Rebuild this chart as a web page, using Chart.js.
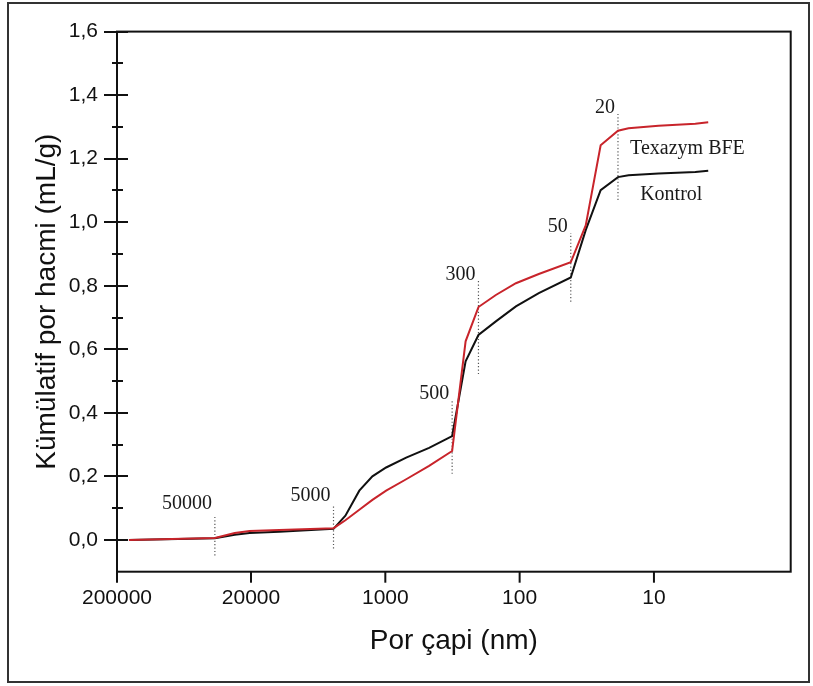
<!DOCTYPE html>
<html><head><meta charset="utf-8">
<script src="https://cdn.jsdelivr.net/npm/chart.js@4/dist/chart.umd.min.js"></script>
<style>html,body{margin:0;padding:0;background:#fff}#wrap{width:813px;height:686px;position:relative}</style>
</head><body><div id="wrap"><canvas id="c" width="813" height="686"></canvas></div>
<script>
// ---- data ----
const poreDiameters = [265000, 50000, 34000, 25500, 14300, 5000, 3970, 3030, 2350, 1800, 1220, 782, 500, 385, 300, 214, 145, 93, 50, 37.4, 28, 20, 16.3, 9.1, 4.46, 3.47];
const texazymValues = [0, 0.006, 0.022, 0.028, 0.031, 0.037, 0.062, 0.095, 0.126, 0.155, 0.191, 0.233, 0.28, 0.625, 0.733, 0.771, 0.808, 0.837, 0.874, 0.99, 1.242, 1.288, 1.296, 1.304, 1.31, 1.315];
const kontrolValues = [0, 0.005, 0.016, 0.022, 0.026, 0.035, 0.076, 0.155, 0.20, 0.228, 0.259, 0.29, 0.327, 0.562, 0.645, 0.688, 0.735, 0.777, 0.826, 0.975, 1.101, 1.142, 1.148, 1.153, 1.158, 1.162];
const seriesNames = ['Texazym BFE', 'Kontrol'];

const xTickLabels = ['200000', '20000', '1000', '100', '10'];
const xTickValues = [334200, 24800, 1829, 134.9, 9.95];

const markerValues = [50000, 5000, 500, 300, 50, 20];
const markerLabels = ['50000', '5000', '500', '300', '50', '20'];

// ---- layout / placement (not data) ----
const xMin = 0.7264, xMax = 334200;
const markerSpans = [[-0.049, 0.076], [-0.027, 0.108], [0.208, 0.44], [0.522, 0.817], [0.75, 0.965], [1.07, 1.341]];
const markerLabelY = [0.098, 0.123, 0.443, 0.819, 0.970, 1.344];
const seriesLabelPos = [{x: 15.8, y: 1.216}, {x: 13.0, y: 1.069}];

const RED = '#c8242b', BLACK = '#111111';

const datasets = [
  {label: seriesNames[0], data: poreDiameters.map((d, i) => ({x: d, y: texazymValues[i]})), borderColor: RED, borderWidth: 2, pointRadius: 0, tension: 0},
  {label: seriesNames[1], data: poreDiameters.map((d, i) => ({x: d, y: kontrolValues[i]})), borderColor: BLACK, borderWidth: 2, pointRadius: 0, tension: 0}
];
markerValues.forEach((m, i) => {
  datasets.push({label: 'm' + markerLabels[i], data: [{x: m, y: markerSpans[i][0]}, {x: m, y: markerSpans[i][1]}],
    borderColor: '#555', borderWidth: 1.2, borderDash: [1.2, 2.2], pointRadius: 0, tension: 0});
});

const decor = {
  id: 'decor',
  afterDraw(chart) {
    const ctx = chart.ctx, ca = chart.chartArea, xs = chart.scales.x, ys = chart.scales.y;
    ctx.save();
    ctx.strokeStyle = BLACK; ctx.lineWidth = 2; ctx.lineCap = 'butt';
    ctx.strokeRect(ca.left, ca.top, ca.right - ca.left, ca.bottom - ca.top);
    ys.ticks.forEach(t => {
      if (t.value < -1e-9) return;
      const k = Math.round(t.value * 10);
      const py = Math.round(ys.getPixelForValue(t.value));
      const major = k % 2 === 0;
      ctx.beginPath();
      ctx.moveTo(ca.left - (major ? 13 : 5), py);
      ctx.lineTo(ca.left + (major ? 11 : 6), py);
      ctx.stroke();
    });
    xs.ticks.forEach(t => {
      const px = xs.getPixelForValue(t.value);
      ctx.beginPath(); ctx.moveTo(px, ca.bottom); ctx.lineTo(px, ca.bottom + 11); ctx.stroke();
    });
    ctx.fillStyle = '#1a1a1a';
    ctx.font = '20px "Liberation Serif", "Times New Roman", serif';
    ctx.textBaseline = 'alphabetic';
    ctx.textAlign = 'right';
    markerValues.forEach((m, i) => {
      ctx.fillText(markerLabels[i], xs.getPixelForValue(m) - 3, ys.getPixelForValue(markerLabelY[i]));
    });
    ctx.textAlign = 'left';
    seriesNames.forEach((n, i) => {
      ctx.fillText(n, xs.getPixelForValue(seriesLabelPos[i].x), ys.getPixelForValue(seriesLabelPos[i].y));
    });
    // outer figure border
    ctx.strokeStyle = '#333'; ctx.lineWidth = 2;
    ctx.strokeRect(8, 3, 801, 679);
    ctx.restore();
  }
};

new Chart(document.getElementById('c'), {
  type: 'line',
  data: {datasets},
  options: {
    responsive: false, animation: false, devicePixelRatio: 1,
    layout: {padding: {left: 0, top: 29, right: 22.3, bottom: 0}},
    plugins: {legend: {display: false}, tooltip: {enabled: false}},
    scales: {
      x: {
        type: 'logarithmic', reverse: true, min: xMin, max: xMax,
        afterFit: s => { s.height = 114.3; },
        afterBuildTicks: s => { s.ticks = xTickValues.map(v => ({value: v})); },
        grid: {display: false, drawTicks: false},
        border: {display: false},
        ticks: {autoSkip: false, maxRotation: 0, minRotation: 0, padding: 14, color: '#111',
          font: {family: '"Liberation Sans", Arial, sans-serif', size: 21},
          callback: (v, i) => xTickLabels[i]},
        title: {display: true, text: 'Por çapi (nm)', color: '#111',
          font: {family: '"Liberation Sans", Arial, sans-serif', size: 28},
          padding: {top: 0, bottom: 28.2}}
      },
      y: {
        type: 'linear', min: -0.1, max: 1.6,
        afterFit: s => { s.width = 117; },
        grid: {display: false, drawTicks: false},
        border: {display: false},
        ticks: {stepSize: 0.1, autoSkip: false, padding: 19, color: '#111',
          font: {family: '"Liberation Sans", Arial, sans-serif', size: 21},
          callback: v => { const k = Math.round(v * 10); return (k < 0 || k % 2) ? '' : (k / 10).toFixed(1).replace('.', ','); }},
        title: {display: true, text: 'Kümülatif por hacmi (mL/g)', color: '#111',
          font: {family: '"Liberation Sans", Arial, sans-serif', size: 28},
          padding: {top: 30.7, bottom: 0}}
      }
    }
  },
  plugins: [decor]
});
</script></body></html>
